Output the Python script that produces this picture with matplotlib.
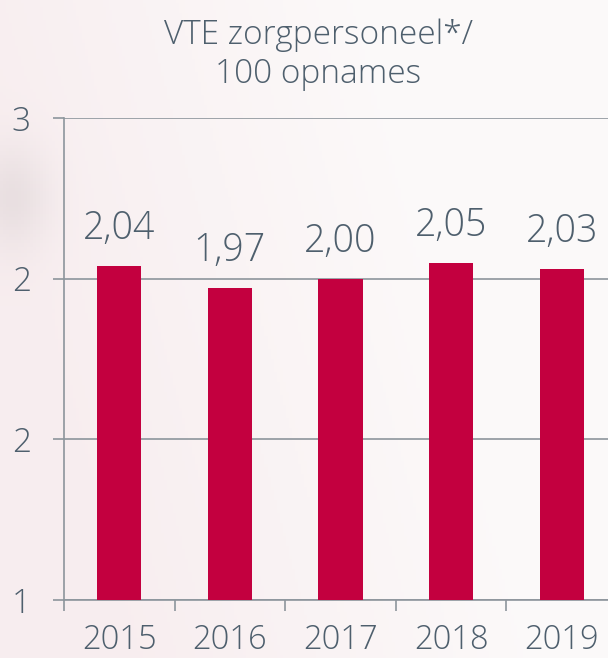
import matplotlib.pyplot as plt
import numpy as np
from matplotlib.ticker import FixedLocator, FuncFormatter

years = ["2015", "2016", "2017", "2018", "2019"]
values = [2.04, 1.97, 2.00, 2.05, 2.03]
y_ticks = [1.0, 1.5, 2.0, 2.5]

bar_color = "#c3003f"
text_color = "#4e5f6d"
grid_color = "#8d959c"
font = "Open Sans"

fig = plt.figure(figsize=(6.08, 6.58), dpi=100)

# soft background wash
bg = fig.add_axes([0, 0, 1, 1], zorder=-10)
gx, gy = np.meshgrid(np.linspace(0, 1, 200), np.linspace(0, 1, 200))
pink = np.array([0.965, 0.91, 0.92])
white = np.array([0.988, 0.98, 0.98])
w = np.clip(1.0 - gx * 1.4 + (gy - 0.3) * 0.4, 0, 1)[..., None] * 0.7
img = white * (1 - w) + pink * w
blob = np.exp(-(((gx - 0.02) / 0.06) ** 2 + ((gy - 0.3) / 0.08) ** 2))[..., None]
img = img * (1 - 0.06 * blob)
bg.imshow(img, extent=[0, 1, 0, 1], aspect="auto", origin="upper")
bg.axis("off")

ax = fig.add_axes([64 / 608, 1 - 600 / 658, 553 / 608, 482 / 658])
ax.patch.set_alpha(0)
x = np.arange(len(years))
ax.bar(x, values, width=0.4, color=bar_color, zorder=3)

for xi, v in zip(x, values):
    ax.annotate(f"{v:.2f}".replace(".", ","), (xi, v), xytext=(0, 13),
                textcoords="offset points", ha="center", va="bottom",
                fontsize=27, color=text_color, family=font, fontweight="light")

ax.set_xlim(-0.5, len(years) - 0.5)
ax.set_ylim(1, 2.5)
ax.yaxis.set_major_locator(FixedLocator(y_ticks))
ax.yaxis.set_major_formatter(FuncFormatter(lambda v, p: f"{int(np.floor(v + 0.5))}"))
ax.grid(axis="y", color=grid_color, linewidth=1.2, zorder=0)

ax.set_xticks(x)
ax.set_xticklabels(years)
ax.xaxis.set_minor_locator(FixedLocator(np.arange(len(years) + 1) - 0.5))
ax.tick_params(axis="x", which="major", length=0, pad=17, labelsize=23.5, labelcolor=text_color)
ax.tick_params(axis="x", which="minor", length=8, width=1.2, color=grid_color)
ax.tick_params(axis="y", length=8, width=1.2, color=grid_color, pad=16, labelsize=24, labelcolor=text_color)
for lab in ax.get_xticklabels() + ax.get_yticklabels():
    lab.set_family(font)
    lab.set_fontweight("light")

for side in ["top", "right"]:
    ax.spines[side].set_visible(False)
for side in ["left", "bottom"]:
    ax.spines[side].set_color(grid_color)
    ax.spines[side].set_linewidth(1.2)

fig.text(318 / 608, 1 - 55 / 658, "VTE zorgpersoneel*/\n100 opnames", ha="center", va="center",
         fontsize=24, color=text_color, family=font, fontweight="light", linespacing=1.2)

fig.savefig("out.png", dpi=100)
